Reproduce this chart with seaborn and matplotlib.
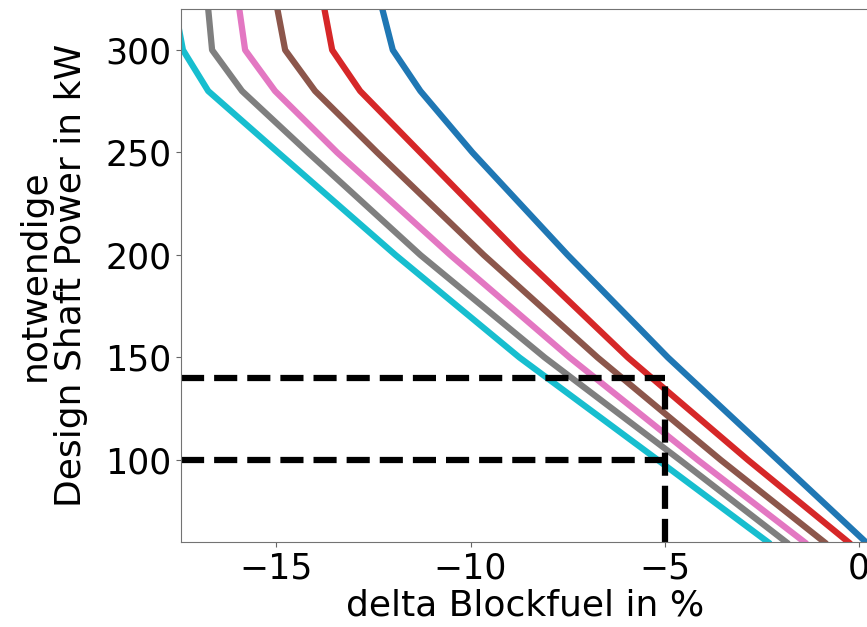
import numpy as np
import pandas as pd
import matplotlib
matplotlib.use("Agg")
import matplotlib.pyplot as plt
import seaborn as sns

# design shaft power levels (kW) at which the curves were read
power = [320, 300, 280, 250, 200, 150, 100, 60]

# delta blockfuel in % for each curve
delta_c0 = [-12.27, -12.0, -11.29, -9.95, -7.5, -4.92, -2.09, 0.17]
delta_c3 = [-13.76, -13.56, -12.84, -11.29, -8.71, -5.95, -2.86, -0.28]
delta_c5 = [-14.97, -14.77, -14.0, -12.40, -9.66, -6.73, -3.56, -0.90]
delta_c6 = [-15.95, -15.8, -15.03, -13.43, -10.52, -7.45, -4.15, -1.41]
delta_c7 = [-16.75, -16.65, -15.88, -14.18, -11.29, -8.09, -4.61, -1.88]
delta_c9 = [-17.6, -17.4, -16.75, -14.95, -11.93, -8.74, -5.18, -2.35]

curves = {"c0": delta_c0, "c3": delta_c3, "c5": delta_c5,
          "c6": delta_c6, "c7": delta_c7, "c9": delta_c9}
colors = ["tab:blue", "tab:red", "tab:brown", "tab:pink", "tab:gray", "tab:cyan"]

# reference lines
ref_power = [140, 100]
ref_delta = -5

xlim = (-17.45, 0.28)
ylim = (60, 320)

rows = []
for name, vals in curves.items():
    for p, d in zip(power, vals):
        rows.append({"curve": name, "power": p, "delta": d})
df = pd.DataFrame(rows)

fig = plt.figure(figsize=(8.67, 6.27), dpi=100)
ax = fig.add_axes([181 / 867, 85 / 627, 689 / 867, 533 / 627])

sns.lineplot(data=df, x="delta", y="power", hue="curve", palette=colors,
             estimator=None, sort=False, linewidth=4.5, legend=False, ax=ax)

ax.hlines(ref_power, xlim[0], ref_delta, colors="black", linestyles="--", linewidth=4.5)
ax.vlines(ref_delta, ylim[0], max(ref_power), colors="black", linestyles="--", linewidth=4.5)

ax.set_xlim(xlim)
ax.set_ylim(ylim)
ax.set_xticks([-15, -10, -5, 0])
ax.set_yticks([100, 150, 200, 250, 300])
ax.tick_params(labelsize=25, color="0.4")
for s in ax.spines.values():
    s.set_color("0.45")
ax.set_xlabel("delta Blockfuel in %", fontsize=26, labelpad=2)
ax.set_ylabel("notwendige\nDesign Shaft Power in kW", fontsize=26,
              linespacing=1.1, labelpad=12)

fig.savefig("out.png", dpi=100)
